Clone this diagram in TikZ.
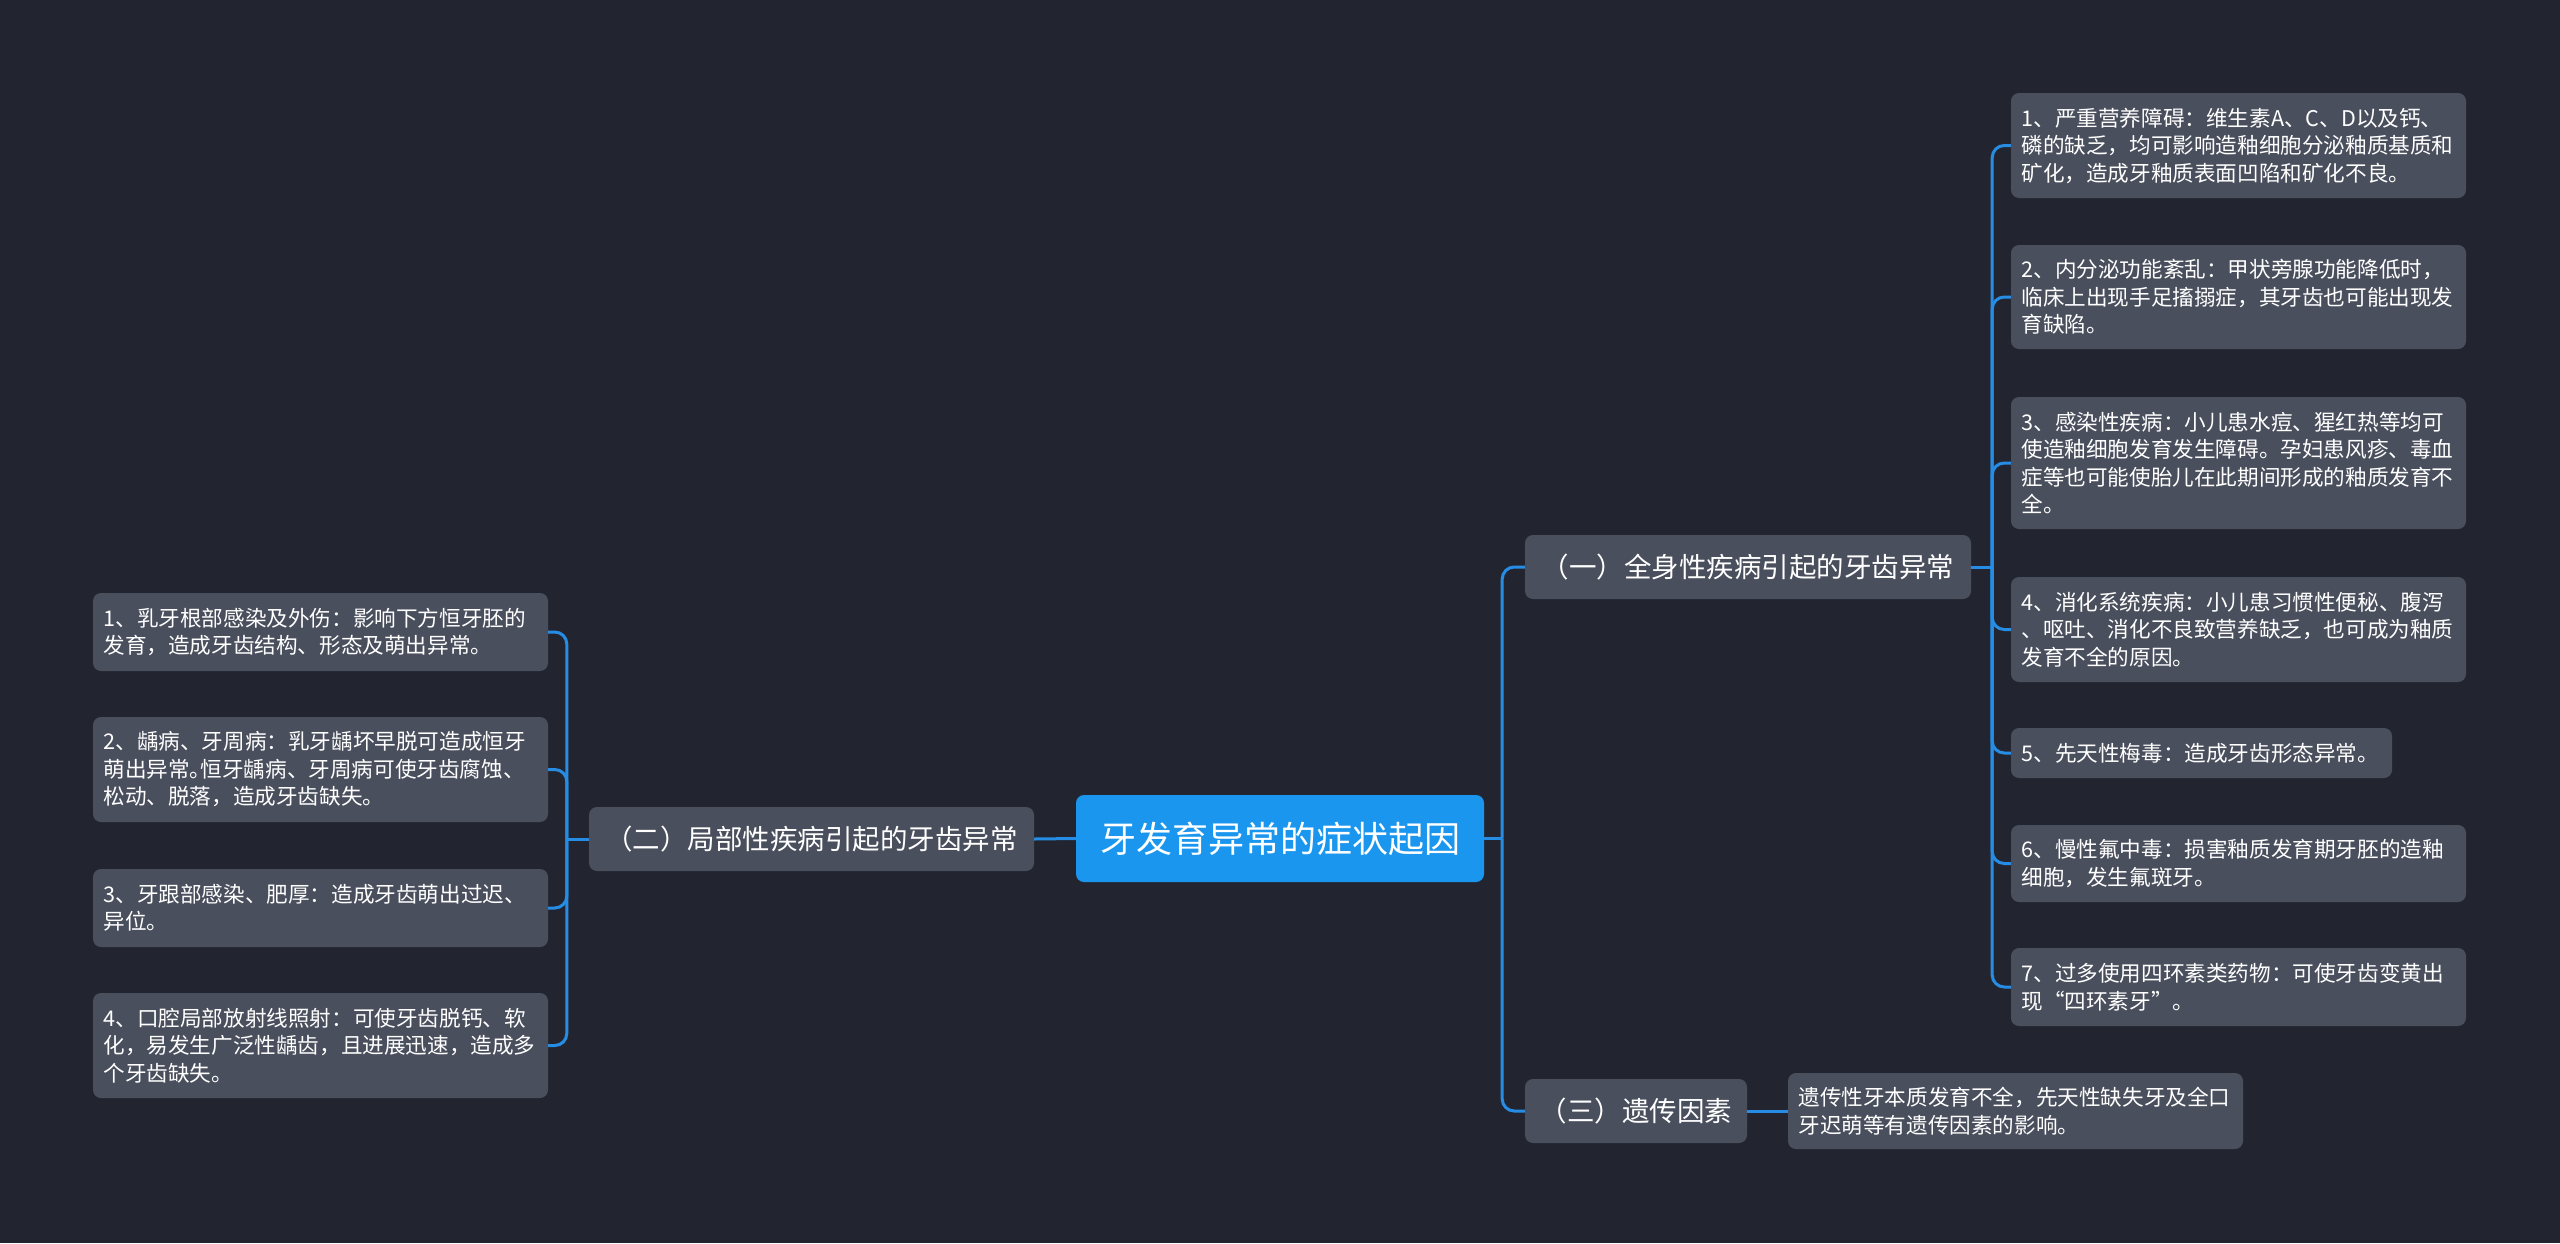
\documentclass[tikz,border=0pt]{standalone}
\usepackage{fontspec}
\setmainfont{Noto Sans CJK SC}
\definecolor{bgc}{RGB}{34,37,48}
\definecolor{leafc}{RGB}{74,79,93}
\definecolor{rootc}{RGB}{27,150,238}
\definecolor{linec}{RGB}{38,140,228}
\newcommand\leaffont{\fontsize{21.6pt}{27.5pt}\selectfont}
\newcommand\branchfont{\fontsize{27.5pt}{33pt}\selectfont}
\newcommand\rootfont{\fontsize{36pt}{43pt}\selectfont}
\tikzset{
  leaf/.style={rectangle, rounded corners=8pt, fill=leafc, text=white, font=\leaffont,
    align=left, inner xsep=10.5pt, inner ysep=0pt, text width=434pt},
  branch/.style={rectangle, rounded corners=8pt, fill=leafc, text=white, font=\branchfont,
    inner sep=0pt, minimum height=64pt},
  rootbox/.style={rectangle, rounded corners=8pt, fill=rootc, text=white, font=\rootfont,
    inner sep=0pt, minimum width=408pt, minimum height=87pt},
  conn/.style={draw=linec, line width=3pt, rounded corners=12pt}
}
\begin{document}
\begin{tikzpicture}[x=1pt,y=-1pt]
\fill[bgc] (0,0) rectangle (2560,1243);
\useasboundingbox (0,0) rectangle (2560,1243);

% root and branches
\node[rootbox] (root) at (1280,838.5) {牙发育异常的症状起因};
\node[branch, minimum width=446pt] (b1) at (1748,567) {（一）全身性疾病引起的牙齿异常};
\node[branch, minimum width=445pt] (b2) at (811.5,839) {（二）局部性疾病引起的牙齿异常};
\node[branch, minimum width=222pt] (b3) at (1636,1111) {（三）遗传因素};

% right leaves of (一)
\node[leaf, minimum height=105pt] (r1) at (2238.5,145.5) {1、严重营养障碍：维生素A、C、D以及钙、\\磷的缺乏，均可影响造釉细胞分泌釉质基质和\\矿化，造成牙釉质表面凹陷和矿化不良。};
\node[leaf, minimum height=104pt] (r2) at (2238.5,297) {2、内分泌功能紊乱：甲状旁腺功能降低时，\\临床上出现手足搐搦症，其牙齿也可能出现发\\育缺陷。};
\node[leaf, minimum height=132pt] (r3) at (2238.5,463) {3、感染性疾病：小儿患水痘、猩红热等均可\\使造釉细胞发育发生障碍。孕妇患风疹、毒血\\症等也可能使胎儿在此期间形成的釉质发育不\\全。};
\node[leaf, minimum height=105pt] (r4) at (2238.5,629.5) {4、消化系统疾病：小儿患习惯性便秘、腹泻\\、呕吐、消化不良致营养缺乏，也可成为釉质\\发育不全的原因。};
\node[leaf, minimum height=50pt, text width=360pt] (r5) at (2201.5,753) {5、先天性梅毒：造成牙齿形态异常。};
\node[leaf, minimum height=77pt] (r6) at (2238.5,863.5) {6、慢性氟中毒：损害釉质发育期牙胚的造釉\\细胞，发生氟斑牙。};
\node[leaf, minimum height=78pt] (r7) at (2238.5,987) {7、过多使用四环素类药物：可使牙齿变黄出\\现“四环素牙”。};

% left leaves of (二)
\node[leaf, minimum height=78pt] (l1) at (320.5,632) {1、乳牙根部感染及外伤：影响下方恒牙胚的\\发育，造成牙齿结构、形态及萌出异常。};
\node[leaf, minimum height=105pt] (l2) at (320.5,769.5) {2、龋病、牙周病：乳牙龋坏早脱可造成恒牙\\萌出异常。\kern-0.5em 恒牙龋病、牙周病可使牙齿腐蚀、\\松动、脱落，造成牙齿缺失。};
\node[leaf, minimum height=78pt] (l3) at (320.5,908) {3、牙跟部感染、肥厚：造成牙齿萌出过迟、\\异位。};
\node[leaf, minimum height=105pt] (l4) at (320.5,1045.5) {4、口腔局部放射线照射：可使牙齿脱钙、软\\化，易发生广泛性龋齿，且进展迅速，造成多\\个牙齿缺失。};

% leaf of (三)
\node[leaf, minimum height=76pt] (t1) at (2015.5,1111) {遗传性牙本质发育不全，先天性缺失牙及全口\\牙迟萌等有遗传因素的影响。};

% junction coordinates
\path (root.east) ++(18,0) coordinate (jr);
\path (b1.east) ++(21,0) coordinate (j1);
\path (b2.west) ++(-22,0) coordinate (j2);

% connectors root
\draw[conn] (root.east) -- (jr);
\draw[conn] (jr) |- (b1.west);
\draw[conn] (jr) |- (b3.west);
\draw[conn] (root.west) -- (b2.east);

% connectors (一)
\draw[conn] (b1.east) -- (j1);
\foreach \n in {r1,r2,r3,r4,r5,r6,r7}{\draw[conn] (j1) |- (\n.west);}

% connectors (二)
\draw[conn] (b2.west) -- (j2);
\foreach \n in {l1,l2,l3,l4}{\draw[conn] (j2) |- (\n.east);}

% connector (三)
\draw[conn] (b3.east) -- (t1.west);
\end{tikzpicture}
\end{document}
